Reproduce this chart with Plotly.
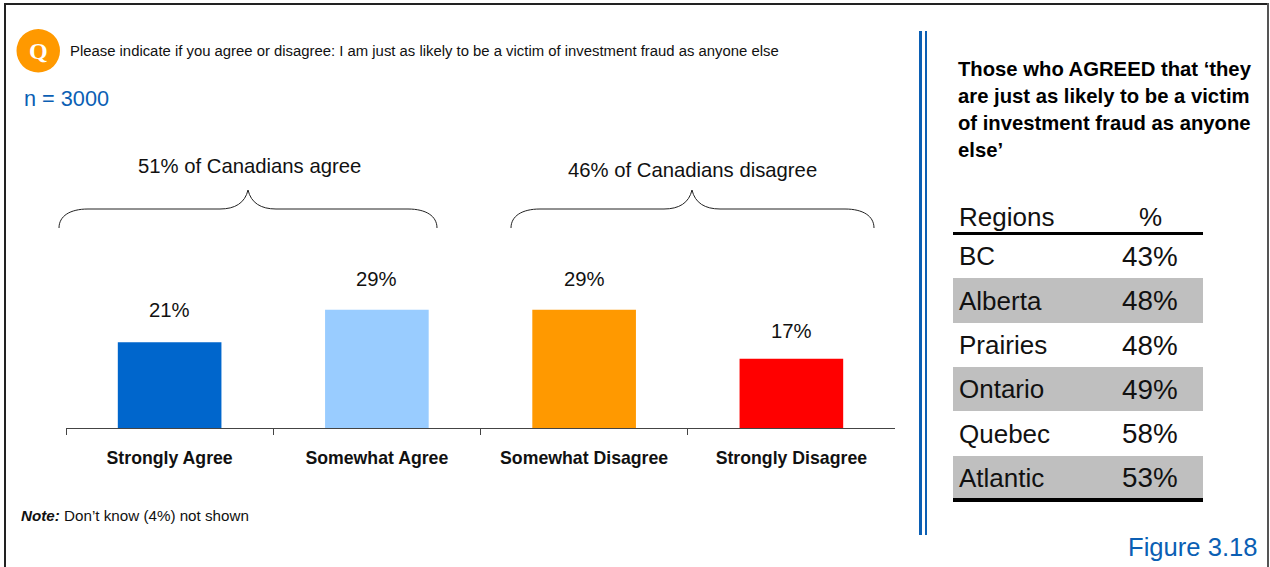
import plotly.graph_objects as go

W, H = 1270, 567
FONT = "Liberation Sans"
BLUE = "#0B5FB4"

# Survey responses
categories = ["Strongly Agree", "Somewhat Agree", "Somewhat Disagree", "Strongly Disagree"]
shares = [21, 29, 29, 17]
bar_colors = ["#0066CC", "#99CCFF", "#FF9900", "#FF0000"]
label_gaps = [32, 31, 31, 28]

# Regional breakdown of those who agreed
regions = ["BC", "Alberta", "Prairies", "Ontario", "Quebec", "Atlantic"]
region_shares = [43, 48, 48, 49, 58, 53]

question = "Please indicate if you agree or disagree: I am just as likely to be a victim of investment fraud as anyone else"
side_title = [
    "Those who AGREED that ‘they",
    "are just as likely to be a victim",
    "of investment fraud as anyone",
    "else’",
]


def px(x):
    return x / W


def py(y):
    return 1 - y / H


def label(x, y, text, size, color="#111111", anchor="left", family=FONT, **kw):
    return dict(
        x=px(x), y=py(y), xref="paper", yref="paper", text=text, showarrow=False,
        xanchor=anchor, yanchor="middle", align=anchor,
        font=dict(family=family, size=size, color=color), **kw,
    )


def rect(x0, y0, x1, y1, color):
    return dict(
        type="rect", xref="paper", yref="paper", layer="below",
        x0=px(x0), x1=px(x1), y0=py(y0), y1=py(y1),
        fillcolor=color, line=dict(width=0),
    )


def brace(left, tip, right, top=190, mid=209, bottom=228):
    # Curly brace: outer hooks, two flat runs, and a pointed centre
    points = [
        ("M", (left, bottom)),
        ("C", (left, mid + 7), (left + 11, mid), (left + 29, mid)),
        ("L", (tip - 28, mid)),
        ("C", (tip - 13, mid), (tip - 3, mid - 6), (tip, top)),
        ("C", (tip + 3, mid - 6), (tip + 13, mid), (tip + 28, mid)),
        ("L", (right - 29, mid)),
        ("C", (right - 11, mid), (right, mid + 7), (right, bottom)),
    ]
    path = " ".join(
        cmd + " " + " ".join(f"{px(x):.5f},{py(y):.5f}" for x, y in pts)
        for cmd, *pts in points
    )
    return dict(type="path", xref="paper", yref="paper", path=path,
                line=dict(color="#222222", width=1))


fig = go.Figure(
    go.Bar(x=categories, y=shares, width=0.5, marker=dict(color=bar_colors, line=dict(width=0)),
           hoverinfo="skip")
)

shapes = [
    # Page frame, open along the bottom edge
    rect(4, 3, 6, 567, "#222222"),
    rect(4, 3, 1269, 5, "#222222"),
    rect(1267, 3, 1269, 567, "#555555"),
    # Double rule between chart and table
    rect(919, 31, 922, 535, BLUE),
    rect(925, 31, 927, 535, BLUE),
    # Question badge
    dict(type="circle", xref="paper", yref="paper", x0=px(16.5), x1=px(60), y0=py(72.5), y1=py(29),
         fillcolor="#FF9900", line=dict(width=0)),
    brace(59, 248, 437),
    brace(511, 692, 874),
]

annotations = [
    label(38, 51, "<b>Q</b>", 24, "white", "center", "Liberation Serif"),
    label(68, 51, question, 14.86),
    label(22, 98, "n = 3000", 21.7, BLUE),
    label(249.5, 166, "51% of Canadians agree", 20.3, anchor="center"),
    label(692.5, 170, "46% of Canadians disagree", 20.3, anchor="center"),
    label(18.5, 515, "<b><i>Note:</i></b> Don’t know (4%) not shown", 15.2),
    label(1258.5, 547, "Figure 3.18", 25.6, BLUE, "right"),
    label(957, 217, "Regions", 26),
    label(1150, 217, "%", 26, anchor="center"),
]

# Value labels float a short distance above each bar
for cat, val, gap in zip(categories, shares, label_gaps):
    annotations.append(dict(
        x=cat, y=val, xref="x", yref="y", text=f"{val}%", showarrow=False,
        xanchor="center", yanchor="middle", yshift=gap,
        font=dict(family=FONT, size=20.3, color="#111111"),
    ))

for i, line in enumerate(side_title):
    annotations.append(label(956, 69 + 27 * i, f"<b>{line}</b>", 20.25, "#000000"))

# Table rows with alternating grey banding
row_edges = [234, 278, 323, 367, 411, 456, 499]
for i, (name, val) in enumerate(zip(regions, region_shares)):
    top, bottom = row_edges[i], row_edges[i + 1]
    if i % 2 == 1:
        shapes.append(rect(953, top, 1203, bottom, "#BFBFBF"))
    mid = (top + bottom) / 2
    annotations.append(label(957, mid, name, 26))
    annotations.append(label(1150, mid, f"{val}%", 27.8, anchor="center"))

shapes.append(rect(953, 232, 1203, 235, "#000000"))
shapes.append(rect(953, 498, 1203, 502, "#000000"))

fig.update_layout(
    width=W, height=H, autosize=False,
    margin=dict(l=0, r=0, t=0, b=0),
    paper_bgcolor="white", plot_bgcolor="white",
    showlegend=False, shapes=shapes, annotations=annotations,
    font=dict(family=FONT),
    xaxis=dict(
        domain=[px(66), px(895)], range=[-0.5, 3.5], type="category",
        showgrid=False, showline=True, linecolor="#444444", linewidth=1,
        ticks="outside", tickson="boundaries", ticklen=6, tickcolor="#444444",
        ticklabelstandoff=14, fixedrange=True,
        tickfont=dict(family=FONT, size=17.7, color="#111111", weight="bold"),
    ),
    yaxis=dict(
        domain=[py(428), py(264.8)], range=[0, 40],
        visible=False, fixedrange=True,
    ),
)

fig.write_html("out.html", config=dict(displayModeBar=False))
